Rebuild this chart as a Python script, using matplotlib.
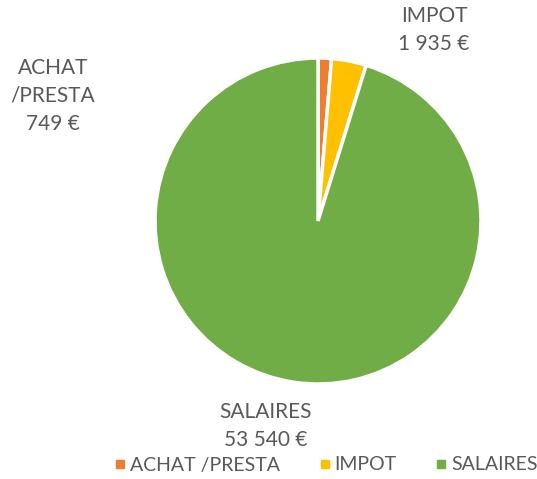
import matplotlib.pyplot as plt

labels = ['ACHAT /PRESTA', 'IMPOT', 'SALAIRES']
values = [749, 1935, 53540]
value_text = ['749 €', '1 935 €', '53 540 €']
label_text = ['ACHAT\n/PRESTA', 'IMPOT', 'SALAIRES']
colors = ['#ED7D31', '#FFC000', '#70AD47']

plt.rcParams['font.family'] = ['Lato', 'DejaVu Sans']
gray = '#595959'

fig = plt.figure(figsize=(5.37, 4.79), dpi=100)
# pie centre ~ (318, 221), radius ~163 px
ax = fig.add_axes([(318 - 163) / 537, 1 - (221 + 163) / 479, 326 / 537, 326 / 479])
wedges, _ = ax.pie(values, colors=colors, startangle=90, counterclock=False,
                   wedgeprops=dict(edgecolor='white', linewidth=2.5))
ax.set_aspect('equal')
ax.set_xlim(-1, 1)
ax.set_ylim(-1, 1)

# data labels (pixel positions in figure)
label_pos = [(53, 96), (434, 30), (266, 426)]
for (px, py), lt, vt in zip(label_pos, label_text, value_text):
    fig.text(px / 537, 1 - py / 479, lt + '\n' + vt, ha='center', va='center',
             fontsize=15, color=gray, linespacing=1.5)

handles = [plt.Line2D([], [], marker='s', linestyle='', markersize=6,
                      markerfacecolor=c, markeredgecolor=c) for c in colors]
fig.legend(handles, labels, loc='center', bbox_to_anchor=(324 / 537, 1 - 465 / 479),
           ncol=3, frameon=False, fontsize=14, labelcolor=gray,
           handletextpad=0.0, columnspacing=1.8, handlelength=1.0)

fig.savefig('out.png', dpi=100)
